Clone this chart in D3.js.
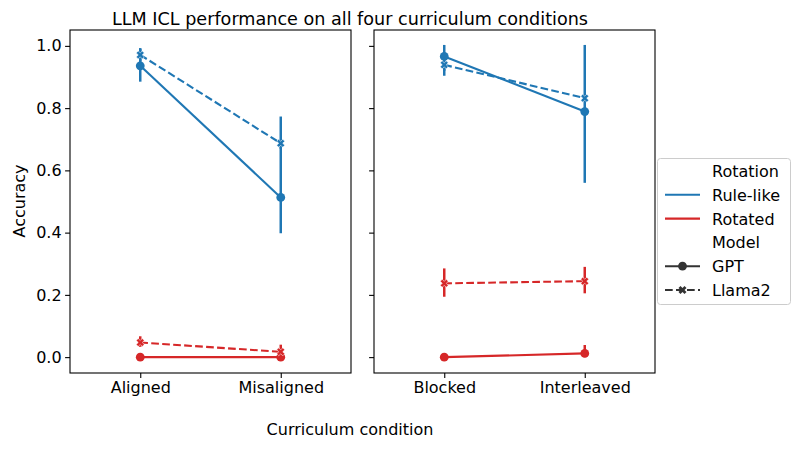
<!DOCTYPE html>
<html><head><meta charset="utf-8">
<script src="https://cdn.jsdelivr.net/npm/d3@7"></script>
<style>body{margin:0;background:#fff}svg{display:block}text{font-family:"DejaVu Sans",sans-serif;fill:#000}</style>
</head><body>
<svg id="c" width="798" height="449"></svg>
<script>
// ---- data ----
const panelLeft = ["Aligned", "Misaligned"];
const panelRight = ["Blocked", "Interleaved"];
const rotations = ["Rule-like", "Rotated"];
const models = ["GPT", "Llama2"];
const yTicks = [0.0, 0.2, 0.4, 0.6, 0.8, 1.0];
// [mean, ciLow, ciHigh] per condition
const ruleGPTLeft    = [[0.936, 0.885, 0.993], [0.513, 0.398, 0.773]];
const ruleLlamaLeft  = [[0.971, 0.950, 0.990], [0.687, 0.670, 0.700]];
const rotGPTLeft     = [[0.000, 0.000, 0.000], [0.000, 0.000, 0.000]];
const rotLlamaLeft   = [[0.047, 0.033, 0.067], [0.017, 0.000, 0.040]];
const ruleGPTRight   = [[0.966, 0.904, 1.003], [0.789, 0.560, 1.003]];
const ruleLlamaRight = [[0.939, 0.920, 0.960], [0.832, 0.820, 0.845]];
const rotGPTRight    = [[0.000, 0.000, 0.000], [0.012, 0.000, 0.039]];
const rotLlamaRight  = [[0.237, 0.194, 0.285], [0.244, 0.205, 0.290]];

const colors = {"Rule-like": "#1f77b4", "Rotated": "#d62728"};
const FS = 16;

const svg = d3.select("#c");
const plotTop = 30, plotBottom = 373;
const y = d3.scaleLinear().domain([-0.051, 1.051]).range([plotBottom, plotTop]);

function panel(x0, x1, cats, series, showLabels) {
  const g = svg.append("g");
  const xi = d3.scaleLinear().domain([-0.5, 1.5]).range([x0, x1]);
  const x = c => xi(cats.indexOf(c));
  const yAxis = d3.axisLeft(y).tickValues(yTicks).tickSize(4.9).tickPadding(3.5)
      .tickFormat(showLabels ? d3.format(".1f") : () => "");
  const ga = g.append("g").attr("transform", `translate(${x0},0)`).call(yAxis);
  ga.select(".domain").remove();
  ga.selectAll("text").attr("font-size", FS).style("font-family", "DejaVu Sans");
  const xa = d3.axisBottom(d3.scalePoint().domain(cats).range([xi(0), xi(1)])).tickSize(4.9).tickPadding(3.5);
  const gx = g.append("g").attr("transform", `translate(0,${plotBottom})`).call(xa);
  gx.select(".domain").remove();
  gx.selectAll("text").attr("font-size", FS).style("font-family", "DejaVu Sans");
  g.selectAll(".tick line").attr("stroke", "#000").attr("stroke-width", 1.1);
  g.append("rect").attr("x", x0).attr("y", plotTop).attr("width", x1 - x0).attr("height", plotBottom - plotTop)
    .attr("fill", "none").attr("stroke", "#000").attr("stroke-width", 1.1);

  series.forEach(s => {
    const col = colors[s.rot];
    const line = d3.line().x((d, i) => x(cats[i])).y(d => y(d[0]));
    g.append("path").attr("d", line(s.data)).attr("fill", "none").attr("stroke", col)
      .attr("stroke-width", 2.1).attr("stroke-dasharray", s.model === "Llama2" ? "7.7,3.3" : null);
    s.data.forEach((d, i) => {
      g.append("line").attr("x1", x(cats[i])).attr("x2", x(cats[i]))
        .attr("y1", y(d[1])).attr("y2", y(d[2])).attr("stroke", col).attr("stroke-width", 2.5);
      if (s.model === "GPT") {
        g.append("circle").attr("cx", x(cats[i])).attr("cy", y(d[0])).attr("r", 4.4).attr("fill", col);
      } else {
        g.append("path").attr("d", d3.symbol(d3.symbolCross, 40)())
          .attr("transform", `translate(${x(cats[i])},${y(d[0])}) rotate(45)`).attr("fill", col)
          .attr("stroke", "#fff").attr("stroke-width", 0.5);
      }
    });
  });
}

function mk(rg, rl, og, ol) {
  return [
    {rot: "Rule-like", model: "GPT", data: rg},
    {rot: "Rule-like", model: "Llama2", data: rl},
    {rot: "Rotated", model: "GPT", data: og},
    {rot: "Rotated", model: "Llama2", data: ol}
  ];
}
panel(70, 351, panelLeft, mk(ruleGPTLeft, ruleLlamaLeft, rotGPTLeft, rotLlamaLeft), true);
panel(374, 655, panelRight, mk(ruleGPTRight, ruleLlamaRight, rotGPTRight, rotLlamaRight), false);

svg.append("text").attr("x", 350).attr("y", 24.5).attr("text-anchor", "middle").attr("font-size", 17.6)
  .text("LLM ICL performance on all four curriculum conditions");
svg.append("text").attr("x", 350).attr("y", 435).attr("text-anchor", "middle").attr("font-size", FS)
  .text("Curriculum condition");
svg.append("text").attr("transform", `translate(25,201) rotate(-90)`)
  .attr("text-anchor", "middle").attr("font-size", FS).text("Accuracy");

const lg = svg.append("g");
lg.append("rect").attr("x", 657.5).attr("y", 158.5).attr("width", 133).attr("height", 146).attr("rx", 3)
  .attr("fill", "#fff").attr("stroke", "#ccc").attr("stroke-width", 1);
const items = [
  {label: "Rotation", head: true},
  {label: rotations[0], color: colors[rotations[0]]},
  {label: rotations[1], color: colors[rotations[1]]},
  {label: "Model", head: true},
  {label: models[0], color: "#333", marker: "o"},
  {label: models[1], color: "#333", marker: "X", dash: true}
];
items.forEach((it, i) => {
  const yy = 171 + i * 23.8;
  lg.append("text").attr("x", 712).attr("y", yy + 6).attr("font-size", FS).text(it.label);
  if (it.head) return;
  lg.append("line").attr("x1", 665).attr("x2", 700).attr("y1", yy).attr("y2", yy)
    .attr("stroke", it.color).attr("stroke-width", 2.1).attr("stroke-dasharray", it.dash ? "7.7,3.3" : null);
  if (it.marker === "o") lg.append("circle").attr("cx", 682.5).attr("cy", yy).attr("r", 4.4).attr("fill", it.color);
  if (it.marker === "X") lg.append("path").attr("d", d3.symbol(d3.symbolCross, 40)())
    .attr("transform", `translate(682.5,${yy}) rotate(45)`).attr("fill", it.color);
});
</script>
</body></html>
